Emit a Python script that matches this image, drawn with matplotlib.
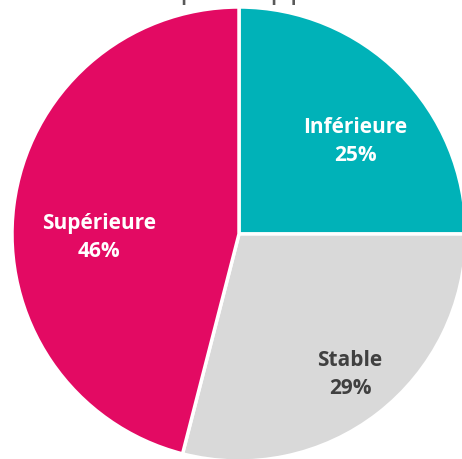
import matplotlib.pyplot as plt

# Data
categories = ["Inférieure", "Stable", "Supérieure"]
shares = [25, 29, 46]
colors = ["#00B2B8", "#D9D9D9", "#E30A63"]
label_colors = ["white", "#404040", "white"]
# label centres, in pie radii from the centre
label_xy = [(0.513, 0.412), (0.489, -0.615), (-0.615, -0.011)]

plt.rcParams["font.family"] = ["Open Sans", "DejaVu Sans"]

fig = plt.figure(figsize=(4.62, 4.60), dpi=100)
ax = fig.add_axes([0, 0, 1, 1])

cx, cy, r = 239, 225, 227
ax.pie(shares, colors=colors, startangle=90, counterclock=False,
       center=(cx, cy), radius=r, frame=True,
       wedgeprops=dict(edgecolor="white", linewidth=2.5))
ax.set_xlim(0, 462)
ax.set_ylim(0, 460)
ax.set_aspect("equal")
ax.axis("off")

for cat, s, c, (lx, ly) in zip(categories, shares, label_colors, label_xy):
    ax.text(cx + lx * r, cy + ly * r, f"{cat}\n{s}%", ha="center", va="center",
            color=c, fontsize=15, fontweight="bold", linespacing=1.45)

# title, cut off at the top of the picture (only descenders show)
tx = 180 / 462
fig.text(tx - 0.012, 0.989, "Position", ha="right", va="bottom",
         fontsize=23, color="#595959")
fig.text(tx, 0.989, "par rapport à l'an dernier", ha="left", va="bottom",
         fontsize=23, color="#595959")

fig.savefig("out.png", dpi=100)
